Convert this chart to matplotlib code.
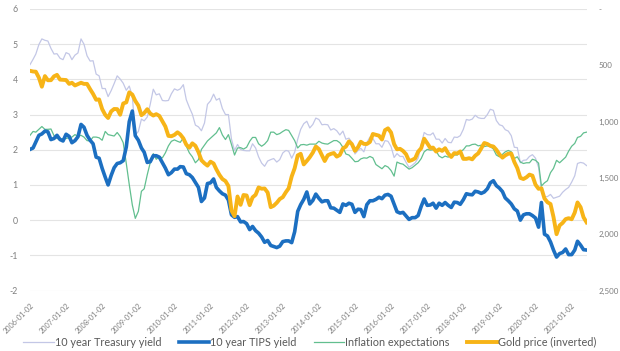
import matplotlib
matplotlib.use("Agg")
import matplotlib.pyplot as plt
import pandas as pd

# ---- data (monthly readings, Jan 2006 - Jun 2021) ----
start_date = "2006-01-02"
n_months = 186

treasury = [
    4.42, 4.57, 4.72, 4.99, 5.15, 5.11, 5.09, 4.88, 4.72, 4.73, 4.60, 4.56,  # 2006
    4.76, 4.72, 4.56, 4.69, 4.75, 5.15, 5.00, 4.67, 4.52, 4.53, 4.15, 4.10,  # 2007
    3.74, 3.74, 3.51, 3.68, 3.88, 4.10, 4.01, 3.89, 3.69, 3.81, 3.53, 2.42,  # 2008
    2.52, 2.87, 2.82, 2.93, 3.29, 3.72, 3.56, 3.59, 3.40, 3.39, 3.40, 3.59,  # 2009
    3.73, 3.69, 3.73, 3.85, 3.42, 3.20, 3.01, 2.70, 2.65, 2.54, 2.76, 3.29,  # 2010
    3.39, 3.58, 3.41, 3.46, 3.17, 3.00, 3.00, 2.30, 1.98, 2.15, 2.01, 1.98,  # 2011
    1.97, 1.97, 2.17, 2.05, 1.80, 1.62, 1.53, 1.68, 1.72, 1.75, 1.65, 1.72,  # 2012
    1.91, 1.98, 1.96, 1.76, 1.93, 2.30, 2.58, 2.74, 2.81, 2.62, 2.72, 2.90,  # 2013
    2.86, 2.71, 2.72, 2.71, 2.56, 2.60, 2.54, 2.42, 2.53, 2.30, 2.33, 2.21,  # 2014
    1.88, 1.98, 2.04, 1.94, 2.20, 2.36, 2.32, 2.17, 2.17, 2.07, 2.26, 2.24,  # 2015
    2.09, 1.78, 1.89, 1.81, 1.81, 1.64, 1.50, 1.56, 1.63, 1.76, 2.14, 2.49,  # 2016
    2.43, 2.42, 2.48, 2.30, 2.30, 2.19, 2.32, 2.21, 2.20, 2.36, 2.35, 2.40,  # 2017
    2.58, 2.86, 2.84, 2.87, 2.98, 2.91, 2.89, 2.89, 3.00, 3.15, 3.12, 2.83,  # 2018
    2.71, 2.68, 2.57, 2.53, 2.40, 2.07, 2.06, 1.63, 1.70, 1.71, 1.81, 1.86,  # 2019
    1.76, 1.50, 0.87, 0.66, 0.67, 0.73, 0.62, 0.65, 0.68, 0.79, 0.87, 0.93,  # 2020
    1.08, 1.26, 1.61, 1.64, 1.62, 1.55,                                      # 2021
]

tips = [
    2.01, 2.05, 2.22, 2.41, 2.45, 2.53, 2.51, 2.29, 2.32, 2.41, 2.29, 2.25,  # 2006
    2.44, 2.38, 2.20, 2.26, 2.37, 2.72, 2.64, 2.41, 2.27, 2.17, 1.79, 1.76,  # 2007
    1.47, 1.22, 1.00, 1.27, 1.49, 1.61, 1.63, 1.69, 2.08, 2.80, 3.10, 2.40,  # 2008
    2.27, 2.05, 1.93, 1.64, 1.66, 1.83, 1.83, 1.79, 1.63, 1.48, 1.29, 1.35,  # 2009
    1.45, 1.45, 1.52, 1.51, 1.32, 1.29, 1.21, 1.07, 0.93, 0.53, 0.63, 1.04,  # 2010
    1.06, 1.17, 0.93, 0.83, 0.75, 0.71, 0.57, 0.15, 0.08, 0.10, -0.05, -0.04,  # 2011
    -0.10, -0.27, -0.18, -0.30, -0.37, -0.48, -0.63, -0.58, -0.72, -0.75, -0.78, -0.74,  # 2012
    -0.61, -0.59, -0.59, -0.64, -0.33, 0.25, 0.44, 0.59, 0.80, 0.46, 0.56, 0.74,  # 2013
    0.62, 0.52, 0.55, 0.55, 0.35, 0.34, 0.28, 0.22, 0.46, 0.42, 0.48, 0.45,  # 2014
    0.22, 0.31, 0.30, 0.10, 0.44, 0.55, 0.55, 0.59, 0.65, 0.61, 0.71, 0.73,  # 2015
    0.68, 0.45, 0.24, 0.20, 0.22, 0.12, 0.02, 0.07, 0.07, 0.13, 0.39, 0.60,  # 2016
    0.42, 0.43, 0.48, 0.34, 0.48, 0.42, 0.50, 0.42, 0.36, 0.51, 0.50, 0.45,  # 2017
    0.58, 0.75, 0.73, 0.72, 0.82, 0.80, 0.76, 0.80, 0.89, 1.06, 1.12, 0.98,  # 2018
    0.91, 0.81, 0.63, 0.55, 0.46, 0.32, 0.26, 0.00, 0.15, 0.18, 0.18, 0.13,  # 2019
    0.06, -0.20, 0.50, -0.40, -0.45, -0.62, -0.85, -1.05, -0.95, -0.92, -0.82, -0.98,  # 2020
    -0.98, -0.85, -0.60, -0.71, -0.84, -0.85,                                # 2021
]

inflation = [
    2.41, 2.52, 2.50, 2.58, 2.66, 2.58, 2.58, 2.59, 2.40, 2.32, 2.31, 2.31,  # 2006
    2.32, 2.34, 2.36, 2.43, 2.38, 2.41, 2.36, 2.26, 2.25, 2.36, 2.36, 2.34,  # 2007
    2.27, 2.52, 2.43, 2.41, 2.39, 2.49, 2.38, 2.20, 1.61, 1.01, 0.43, 0.05,  # 2008
    0.25, 0.82, 0.89, 1.29, 1.63, 1.89, 1.73, 1.80, 1.77, 1.91, 2.11, 2.24,  # 2009
    2.28, 2.24, 2.21, 2.34, 2.10, 1.91, 1.80, 1.63, 1.72, 2.01, 2.13, 2.25,  # 2010
    2.33, 2.41, 2.48, 2.63, 2.42, 2.29, 2.43, 2.15, 1.85, 2.05, 2.06, 2.02,  # 2011
    2.07, 2.24, 2.35, 2.35, 2.17, 2.10, 2.16, 2.26, 2.50, 2.50, 2.43, 2.46,  # 2012
    2.52, 2.57, 2.55, 2.40, 2.26, 2.05, 2.14, 2.15, 2.13, 2.16, 2.16, 2.16,  # 2013
    2.24, 2.19, 2.17, 2.16, 2.21, 2.26, 2.26, 2.20, 2.07, 1.88, 1.85, 1.76,  # 2014
    1.66, 1.67, 1.74, 1.77, 1.76, 1.81, 1.77, 1.58, 1.52, 1.46, 1.55, 1.51,  # 2015
    1.41, 1.25, 1.65, 1.61, 1.59, 1.52, 1.45, 1.49, 1.56, 1.63, 1.75, 1.94,  # 2016
    2.01, 1.99, 2.00, 1.96, 1.82, 1.77, 1.82, 1.79, 1.84, 1.85, 1.85, 1.95,  # 2017
    2.00, 2.11, 2.11, 2.15, 2.16, 2.11, 2.13, 2.09, 2.11, 2.09, 2.02, 1.85,  # 2018
    1.80, 1.87, 1.94, 1.98, 1.94, 1.75, 1.80, 1.65, 1.61, 1.63, 1.63, 1.73,  # 2019
    1.70, 1.62, 0.97, 1.06, 1.12, 1.35, 1.47, 1.70, 1.63, 1.71, 1.79, 1.96,  # 2020
    2.10, 2.18, 2.35, 2.38, 2.48, 2.50,                                      # 2021
]

gold = [
    549, 555, 557, 610, 690, 596, 633, 632, 598, 585, 627, 629,  # 2006
    631, 665, 655, 679, 667, 655, 665, 665, 712, 754, 806, 803,  # 2007
    889, 940, 968, 909, 888, 889, 939, 839, 829, 740, 760, 816,  # 2008
    858, 943, 924, 890, 928, 946, 934, 949, 996, 1043, 1127, 1130,  # 2009
    1118, 1095, 1114, 1149, 1205, 1232, 1193, 1215, 1271, 1343, 1370, 1391,  # 2010
    1356, 1372, 1424, 1473, 1510, 1528, 1572, 1790, 1840, 1665, 1739, 1652,  # 2011
    1656, 1742, 1673, 1650, 1585, 1596, 1594, 1630, 1760, 1747, 1721, 1688,  # 2012
    1671, 1627, 1593, 1487, 1414, 1300, 1286, 1380, 1349, 1316, 1275, 1221,  # 2013
    1244, 1300, 1350, 1299, 1287, 1279, 1311, 1296, 1239, 1222, 1176, 1200,  # 2014
    1260, 1227, 1179, 1198, 1199, 1181, 1110, 1117, 1125, 1159, 1076, 1060,  # 2015
    1097, 1200, 1246, 1242, 1260, 1290, 1350, 1341, 1326, 1267, 1236, 1152,  # 2016
    1192, 1234, 1231, 1266, 1246, 1260, 1236, 1283, 1314, 1280, 1283, 1265,  # 2017
    1331, 1331, 1325, 1335, 1303, 1282, 1238, 1190, 1199, 1215, 1221, 1250,  # 2018
    1291, 1320, 1300, 1285, 1284, 1359, 1413, 1500, 1510, 1495, 1471, 1480,  # 2019
    1560, 1597, 1592, 1683, 1716, 1732, 1847, 2000, 1922, 1900, 1866, 1858,  # 2020
    1867, 1808, 1718, 1760, 1850, 1895,                                      # 2021
]

series_names = ["10 year Treasury yield", "10 year TIPS yield",
                "Inflation expectations", "Gold price (inverted)"]
left_ticks = [-2, -1, 0, 1, 2, 3, 4, 5, 6]
right_ticks = [0, 500, 1000, 1500, 2000, 2500]
right_tick_labels = ["-", "500", "1,000", "1,500", "2,000", "2,500"]
x_tick_years = list(range(2006, 2022))

# ---- plotting ----
plt.rcParams['font.family'] = ['Lato', 'DejaVu Sans']
dates = pd.date_range(start_date, periods=n_months, freq=pd.DateOffset(months=1))

fig = plt.figure(figsize=(6.2, 3.51), dpi=100)
ax = fig.add_axes([30/620, 1 - 290.5/351, (587 - 30)/620, (290.5 - 9)/351])
ax2 = ax.twinx()

c_treas = '#c3c7e6'
c_tips = '#1c6fc1'
c_infl = '#62bf8f'
c_gold = '#f7b417'
tick_col = '#7f7f7f'
grid_col = '#e4e4e4'

l1, = ax.plot(dates, treasury, color=c_treas, lw=0.9, zorder=3)
l2, = ax.plot(dates, tips, color=c_tips, lw=2.6, zorder=4, solid_joinstyle='round')
l3, = ax.plot(dates, inflation, color=c_infl, lw=0.9, zorder=3)
l4, = ax2.plot(dates, gold, color=c_gold, lw=2.8, zorder=5, solid_joinstyle='round')

ax.set_xlim(pd.Timestamp(start_date), pd.Timestamp("2021-06-06"))
ax.set_ylim(-2, 6)
ax2.set_ylim(2500, 0)

ax.set_yticks(left_ticks)
ax.set_yticklabels([str(t) for t in left_ticks])
ax2.set_yticks(right_ticks)
ax2.set_yticklabels(right_tick_labels)

xt = [pd.Timestamp(f"{y}-01-02") for y in x_tick_years]
ax.set_xticks(xt)
ax.set_xticklabels([f"{y}-01-02" for y in x_tick_years], rotation=45,
                   ha='right', rotation_mode='anchor')

for a in (ax, ax2):
    for s in a.spines.values():
        s.set_visible(False)
    a.tick_params(length=0, colors=tick_col, labelsize=6.3)
ax.tick_params(axis='x', labelsize=5.3, pad=8)
ax.tick_params(axis='y', pad=9)
ax2.tick_params(axis='y', pad=8, labelsize=5.8)

ax.grid(axis='y', color=grid_col, lw=0.8)
ax.grid(axis='x', visible=False)
ax.set_axisbelow(True)

fig.legend([l1, l2, l3, l4], series_names, loc='lower center',
           bbox_to_anchor=(0.5, -0.02), ncol=4, frameon=False,
           fontsize=7.8, labelcolor='#595959', handlelength=2.8,
           handletextpad=0.1, columnspacing=1.6)

fig.savefig("out.png", dpi=100, facecolor='white')
